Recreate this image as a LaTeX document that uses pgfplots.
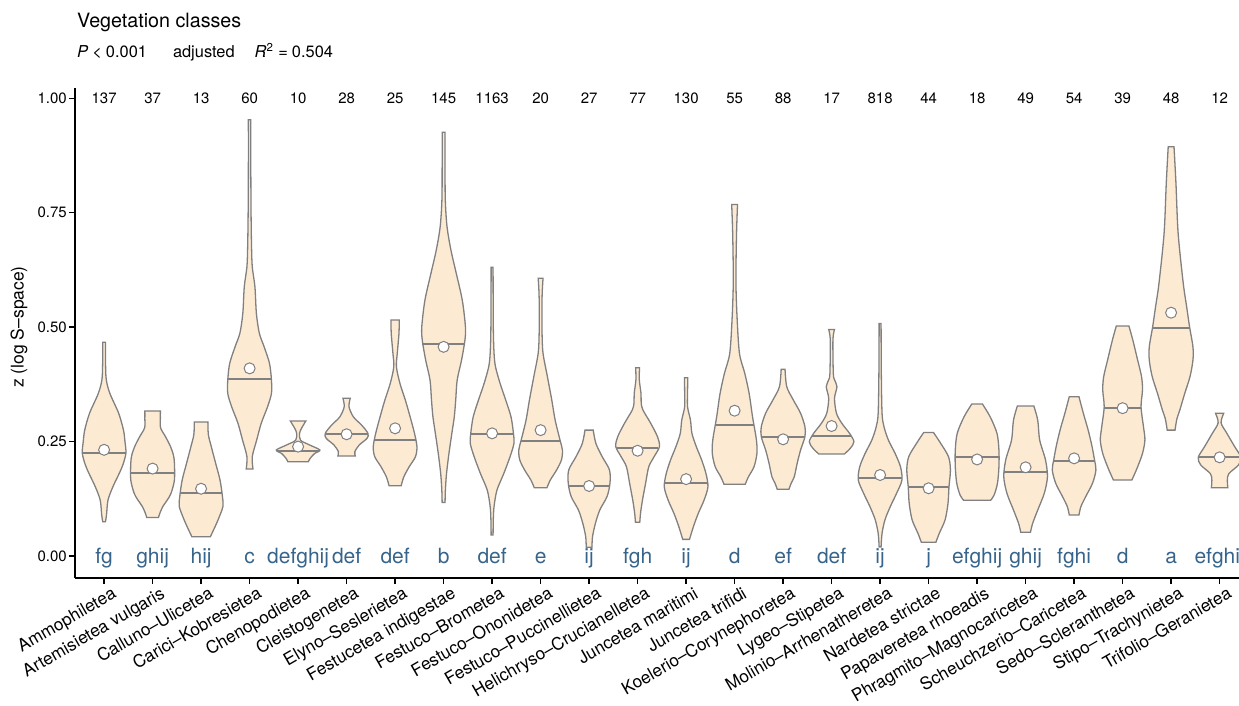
\documentclass[border=0pt]{standalone}
\usepackage{fontspec}
\setmainfont{TeX Gyre Heros}
\usepackage{pgfplots}
\pgfplotsset{compat=1.18}
\usepackage{pgfplotstable}
\usepgfplotslibrary{fillbetween}

\definecolor{vfill}{RGB}{253,234,210}
\definecolor{vline}{RGB}{128,128,128}
\definecolor{letter}{RGB}{54,100,139}

% violin outlines: y value and half width (in category units)
\pgfplotstableread{
y w
0.075 0.028
0.09 0.05
0.122 0.08
0.151 0.18
0.18 0.31
0.20 0.39
0.225 0.45
0.25 0.43
0.275 0.40
0.312 0.30
0.355 0.12
0.385 0.045
0.42 0.03
0.467 0.028
}\VioA
\pgfplotstableread{
y w
0.084 0.12
0.095 0.155
0.108 0.21
0.122 0.30
0.137 0.38
0.166 0.45
0.2025 0.45
0.22 0.43
0.239 0.37
0.26 0.27
0.28 0.165
0.30 0.16
0.317 0.16
}\VioB
\pgfplotstableread{
y w
0.042 0.19
0.06 0.27
0.079 0.35
0.108 0.45
0.13 0.44
0.166 0.39
0.2025 0.30
0.239 0.21
0.265 0.15
0.293 0.14
}\VioC
\pgfplotstableread{
y w
0.19 0.07
0.217 0.055
0.253 0.145
0.29 0.24
0.326 0.37
0.355 0.45
0.385 0.45
0.421 0.41
0.457 0.30
0.487 0.20
0.53 0.14
0.588 0.11
0.632 0.055
0.676 0.04
0.75 0.03
0.85 0.025
0.953 0.025
}\VioD
\pgfplotstableread{
y w
0.206 0.21
0.2135 0.25
0.224 0.34
0.2315 0.45
0.2425 0.24
0.253 0.05
0.268 0.03
0.279 0.07
0.295 0.16
}\VioE
\pgfplotstableread{
y w
0.2185 0.18
0.228 0.17
0.2425 0.26
0.257 0.42
0.268 0.44
0.286 0.31
0.304 0.14
0.326 0.05
0.3445 0.075
}\VioF
\pgfplotstableread{
y w
0.1536 0.125
0.173 0.18
0.195 0.29
0.217 0.42
0.239 0.45
0.268 0.40
0.304 0.31
0.341 0.21
0.377 0.10
0.4135 0.027
0.443 0.045
0.4865 0.08
0.5156 0.085
}\VioG
\pgfplotstableread{
y w
0.117 0.03
0.144 0.037
0.18 0.06
0.224 0.11
0.268 0.17
0.304 0.22
0.341 0.25
0.3845 0.28
0.428 0.37
0.472 0.44
0.501 0.45
0.559 0.385
0.618 0.26
0.669 0.15
0.72 0.07
0.778 0.035
0.85 0.03
0.926 0.03
}\VioH
\pgfplotstableread{
y w
0.046 0.02
0.08 0.025
0.108 0.04
0.144 0.10
0.18 0.24
0.217 0.37
0.246 0.45
0.268 0.44
0.304 0.39
0.341 0.28
0.377 0.165
0.4135 0.07
0.443 0.04
0.5 0.025
0.6306 0.02
}\VioI
\pgfplotstableread{
y w
0.149 0.13
0.166 0.20
0.188 0.33
0.21 0.43
0.2315 0.45
0.2535 0.40
0.297 0.30
0.341 0.23
0.392 0.14
0.443 0.05
0.4865 0.03
0.545 0.027
0.58 0.035
0.6067 0.05
}\VioJ
\pgfplotstableread{
y w
0.019 0.06
0.042 0.07
0.0714 0.13
0.1005 0.22
0.13 0.37
0.159 0.43
0.188 0.42
0.217 0.27
0.246 0.14
0.275 0.085
}\VioK
\pgfplotstableread{
y w
0.0736 0.045
0.093 0.06
0.122 0.10
0.159 0.165
0.195 0.23
0.217 0.34
0.239 0.45
0.2607 0.41
0.29 0.27
0.319 0.11
0.334 0.075
0.355 0.07
0.385 0.035
0.4114 0.04
}\VioL
\pgfplotstableread{
y w
0.0364 0.07
0.064 0.15
0.093 0.25
0.122 0.37
0.151 0.45
0.18 0.41
0.21 0.32
0.239 0.21
0.268 0.12
0.297 0.09
0.326 0.03
0.36 0.03
0.3896 0.035
}\VioM
\pgfplotstableread{
y w
0.157 0.22
0.173 0.285
0.195 0.40
0.224 0.46
0.2535 0.45
0.304 0.37
0.355 0.30
0.399 0.21
0.443 0.10
0.523 0.05
0.603 0.027
0.705 0.04
0.768 0.06
}\VioN
\pgfplotstableread{
y w
0.1457 0.12
0.16 0.17
0.173 0.23
0.2025 0.29
0.2315 0.36
0.2607 0.45
0.2825 0.45
0.312 0.36
0.341 0.21
0.37 0.075
0.408 0.04
}\VioO
\pgfplotstableread{
y w
0.223 0.265
0.2353 0.385
0.2497 0.46
0.268 0.37
0.29 0.21
0.312 0.10
0.3445 0.06
0.37 0.11
0.385 0.06
0.399 0.035
0.472 0.027
0.495 0.06
}\VioP
\pgfplotstableread{
y w
0.02 0.02
0.0496 0.04
0.079 0.10
0.108 0.21
0.137 0.34
0.166 0.45
0.195 0.42
0.224 0.31
0.2535 0.17
0.2825 0.08
0.312 0.04
0.40 0.025
0.508 0.02
}\VioQ
\pgfplotstableread{
y w
0.030 0.15
0.0496 0.22
0.079 0.34
0.115 0.40
0.151 0.42
0.188 0.45
0.217 0.41
0.246 0.25
0.27 0.10
}\VioR
\pgfplotstableread{
y w
0.122 0.28
0.133 0.35
0.159 0.42
0.195 0.45
0.2315 0.45
0.268 0.41
0.304 0.27
0.332 0.11
}\VioS
\pgfplotstableread{
y w
0.0518 0.10
0.0714 0.145
0.1005 0.25
0.137 0.385
0.173 0.45
0.21 0.41
0.2535 0.29
0.297 0.25
0.3277 0.17
}\VioT
\pgfplotstableread{
y w
0.0896 0.10
0.108 0.14
0.13 0.24
0.159 0.38
0.188 0.45
0.21 0.42
0.239 0.37
0.275 0.29
0.312 0.19
0.348 0.10
}\VioU
\pgfplotstableread{
y w
0.166 0.19
0.18 0.25
0.195 0.31
0.224 0.41
0.2535 0.46
0.2825 0.43
0.326 0.38
0.363 0.41
0.392 0.39
0.428 0.31
0.472 0.21
0.5025 0.13
}\VioV
\pgfplotstableread{
y w
0.275 0.08
0.30 0.12
0.319 0.18
0.355 0.28
0.392 0.39
0.428 0.45
0.457 0.45
0.501 0.38
0.545 0.32
0.596 0.25
0.705 0.145
0.814 0.10
0.894 0.06
}\VioW
\pgfplotstableread{
y w
0.149 0.17
0.166 0.16
0.18 0.19
0.199 0.39
0.2156 0.44
0.239 0.31
0.268 0.15
0.291 0.03
0.312 0.085
}\VioX

% x, mean, n, letters
\pgfplotstableread{
x mean n let
1 0.232 137 fg
2 0.191 37 ghij
3 0.147 13 hij
4 0.41 60 c
5 0.239 10 defghij
6 0.266 28 def
7 0.279 25 def
8 0.457 145 b
9 0.268 1163 def
10 0.275 20 e
11 0.153 27 ij
12 0.23 77 fgh
13 0.168 130 ij
14 0.3175 55 d
15 0.255 88 ef
16 0.284 17 def
17 0.177 818 ij
18 0.148 44 j
19 0.211 18 efghij
20 0.1938 49 ghij
21 0.2134 54 fghi
22 0.323 39 d
23 0.5316 48 a
24 0.2156 12 efghij
}\stats

% center, outline table, median, half width at median
\newcommand{\violin}[4]{%
  \addplot[draw=none, smooth, tension=0.5, name path=R#1] table[x expr=#1+\thisrow{w}, y=y] {#2};
  \addplot[draw=none, smooth, tension=0.5, name path=L#1] table[x expr=#1-\thisrow{w}, y=y] {#2};
  \addplot[fill=vfill, draw=vline, line width=1.3pt] fill between[of=R#1 and L#1, reverse=true];
  \addplot[vline, line width=2pt] table[row sep=\\, x expr=#1+\thisrow{d}, y expr=#3] {d\\ -#4\\ #4\\};
}

\begin{document}
\begin{tikzpicture}
\begin{axis}[
  at={(75pt,128pt)}, anchor=south west,
  scale only axis, width=1173.7pt, height=490pt,
  xmin=0.4, xmax=24.6, ymin=-0.048, ymax=1.0225,
  clip=false,
  axis x line*=bottom, axis y line*=left,
  axis line style={line width=2pt, black},
  tick align=outside, major tick length=6pt,
  every tick/.style={black, line width=1.4pt},
  xtick={1,...,24},
  xticklabels={Ammophiletea, Artemisietea vulgaris, Calluno–Ulicetea, Carici–Kobresietea, Chenopodietea, Cleistogenetea, Elyno–Seslerietea, Festucetea indigestae, Festuco–Brometea, Festuco–Ononidetea, Festuco–Puccinellietea, Helichryso–Crucianelletea, Juncetea maritimi, Juncetea trifidi, Koelerio–Corynephoretea, Lygeo–Stipetea, Molinio–Arrhenatheretea, Nardetea strictae, Papaveretea rhoeadis, Phragmito–Magnocaricetea, Scheuchzerio–Caricetea, Sedo–Scleranthetea, Stipo–Trachynietea, Trifolio–Geranietea},
  xticklabel style={rotate=30, anchor=base east, inner sep=0pt, yshift=-18pt, xshift=5pt, font=\fontsize{17.3}{20}\selectfont},
  ytick={0,0.25,0.5,0.75,1},
  yticklabel style={font=\fontsize{15}{18}\selectfont, inner sep=0pt, xshift=-2pt,
    /pgf/number format/.cd, fixed, fixed zerofill, precision=2, assume math mode=true},
]
\violin{1}{\VioA}{0.226}{0.45}
\violin{2}{\VioB}{0.182}{0.45}
\violin{3}{\VioC}{0.137}{0.43}
\violin{4}{\VioD}{0.386}{0.45}
\violin{5}{\VioE}{0.23}{0.43}
\violin{6}{\VioF}{0.266}{0.44}
\violin{7}{\VioG}{0.2535}{0.43}
\violin{8}{\VioH}{0.463}{0.44}
\violin{9}{\VioI}{0.266}{0.44}
\violin{10}{\VioJ}{0.252}{0.40}
\violin{11}{\VioK}{0.153}{0.43}
\violin{12}{\VioL}{0.235}{0.43}
\violin{13}{\VioM}{0.159}{0.44}
\violin{14}{\VioN}{0.287}{0.39}
\violin{15}{\VioO}{0.2607}{0.45}
\violin{16}{\VioP}{0.263}{0.40}
\violin{17}{\VioQ}{0.171}{0.45}
\violin{18}{\VioR}{0.151}{0.42}
\violin{19}{\VioS}{0.217}{0.45}
\violin{20}{\VioT}{0.184}{0.44}
\violin{21}{\VioU}{0.208}{0.42}
\violin{22}{\VioV}{0.3226}{0.38}
\violin{23}{\VioW}{0.4988}{0.38}
\violin{24}{\VioX}{0.2156}{0.44}
% means
\addplot[only marks, mark=*, mark size=5.5pt, mark options={fill=white, draw=vline, line width=1pt}]
  table[x=x, y=mean] {\stats};
% group sizes
\addplot[draw=none, mark=none, nodes near coords, point meta=explicit symbolic,
  every node near coord/.append style={anchor=base, yshift=-5.5pt, inner sep=0pt, font=\fontsize{15}{18}\selectfont}]
  table[x=x, y expr=1, meta=n] {\stats};
% letters
\addplot[draw=none, mark=none, nodes near coords, point meta=explicit symbolic,
  every node near coord/.append style={anchor=base, yshift=-7.5pt, inner sep=0pt, text=letter, font=\fontsize{21}{24}\selectfont}]
  table[x=x, y expr=0, meta=let] {\stats};
\end{axis}
\node[anchor=base west, inner sep=0pt, font=\fontsize{19.7}{23}\selectfont] at (77pt,678pt) {Vegetation classes};
\node[anchor=base west, inner sep=0pt, font=\fontsize{16.4}{19}\selectfont] at (77pt,648.5pt)
  {\textit{P}\hspace{4pt}<\hspace{4pt}0.001\hspace{26pt}adjusted\hspace{20pt}\textit{R}\textsuperscript{2}\hspace{5pt}=\hspace{4pt}0.504};
\node[rotate=90, inner sep=0pt, font=\fontsize{17.5}{20}\selectfont] at (19pt,379pt) {z (log S–space)};
\pgfresetboundingbox
\useasboundingbox (0pt,0pt) rectangle (1239pt,706pt);
\end{tikzpicture}
\end{document}
